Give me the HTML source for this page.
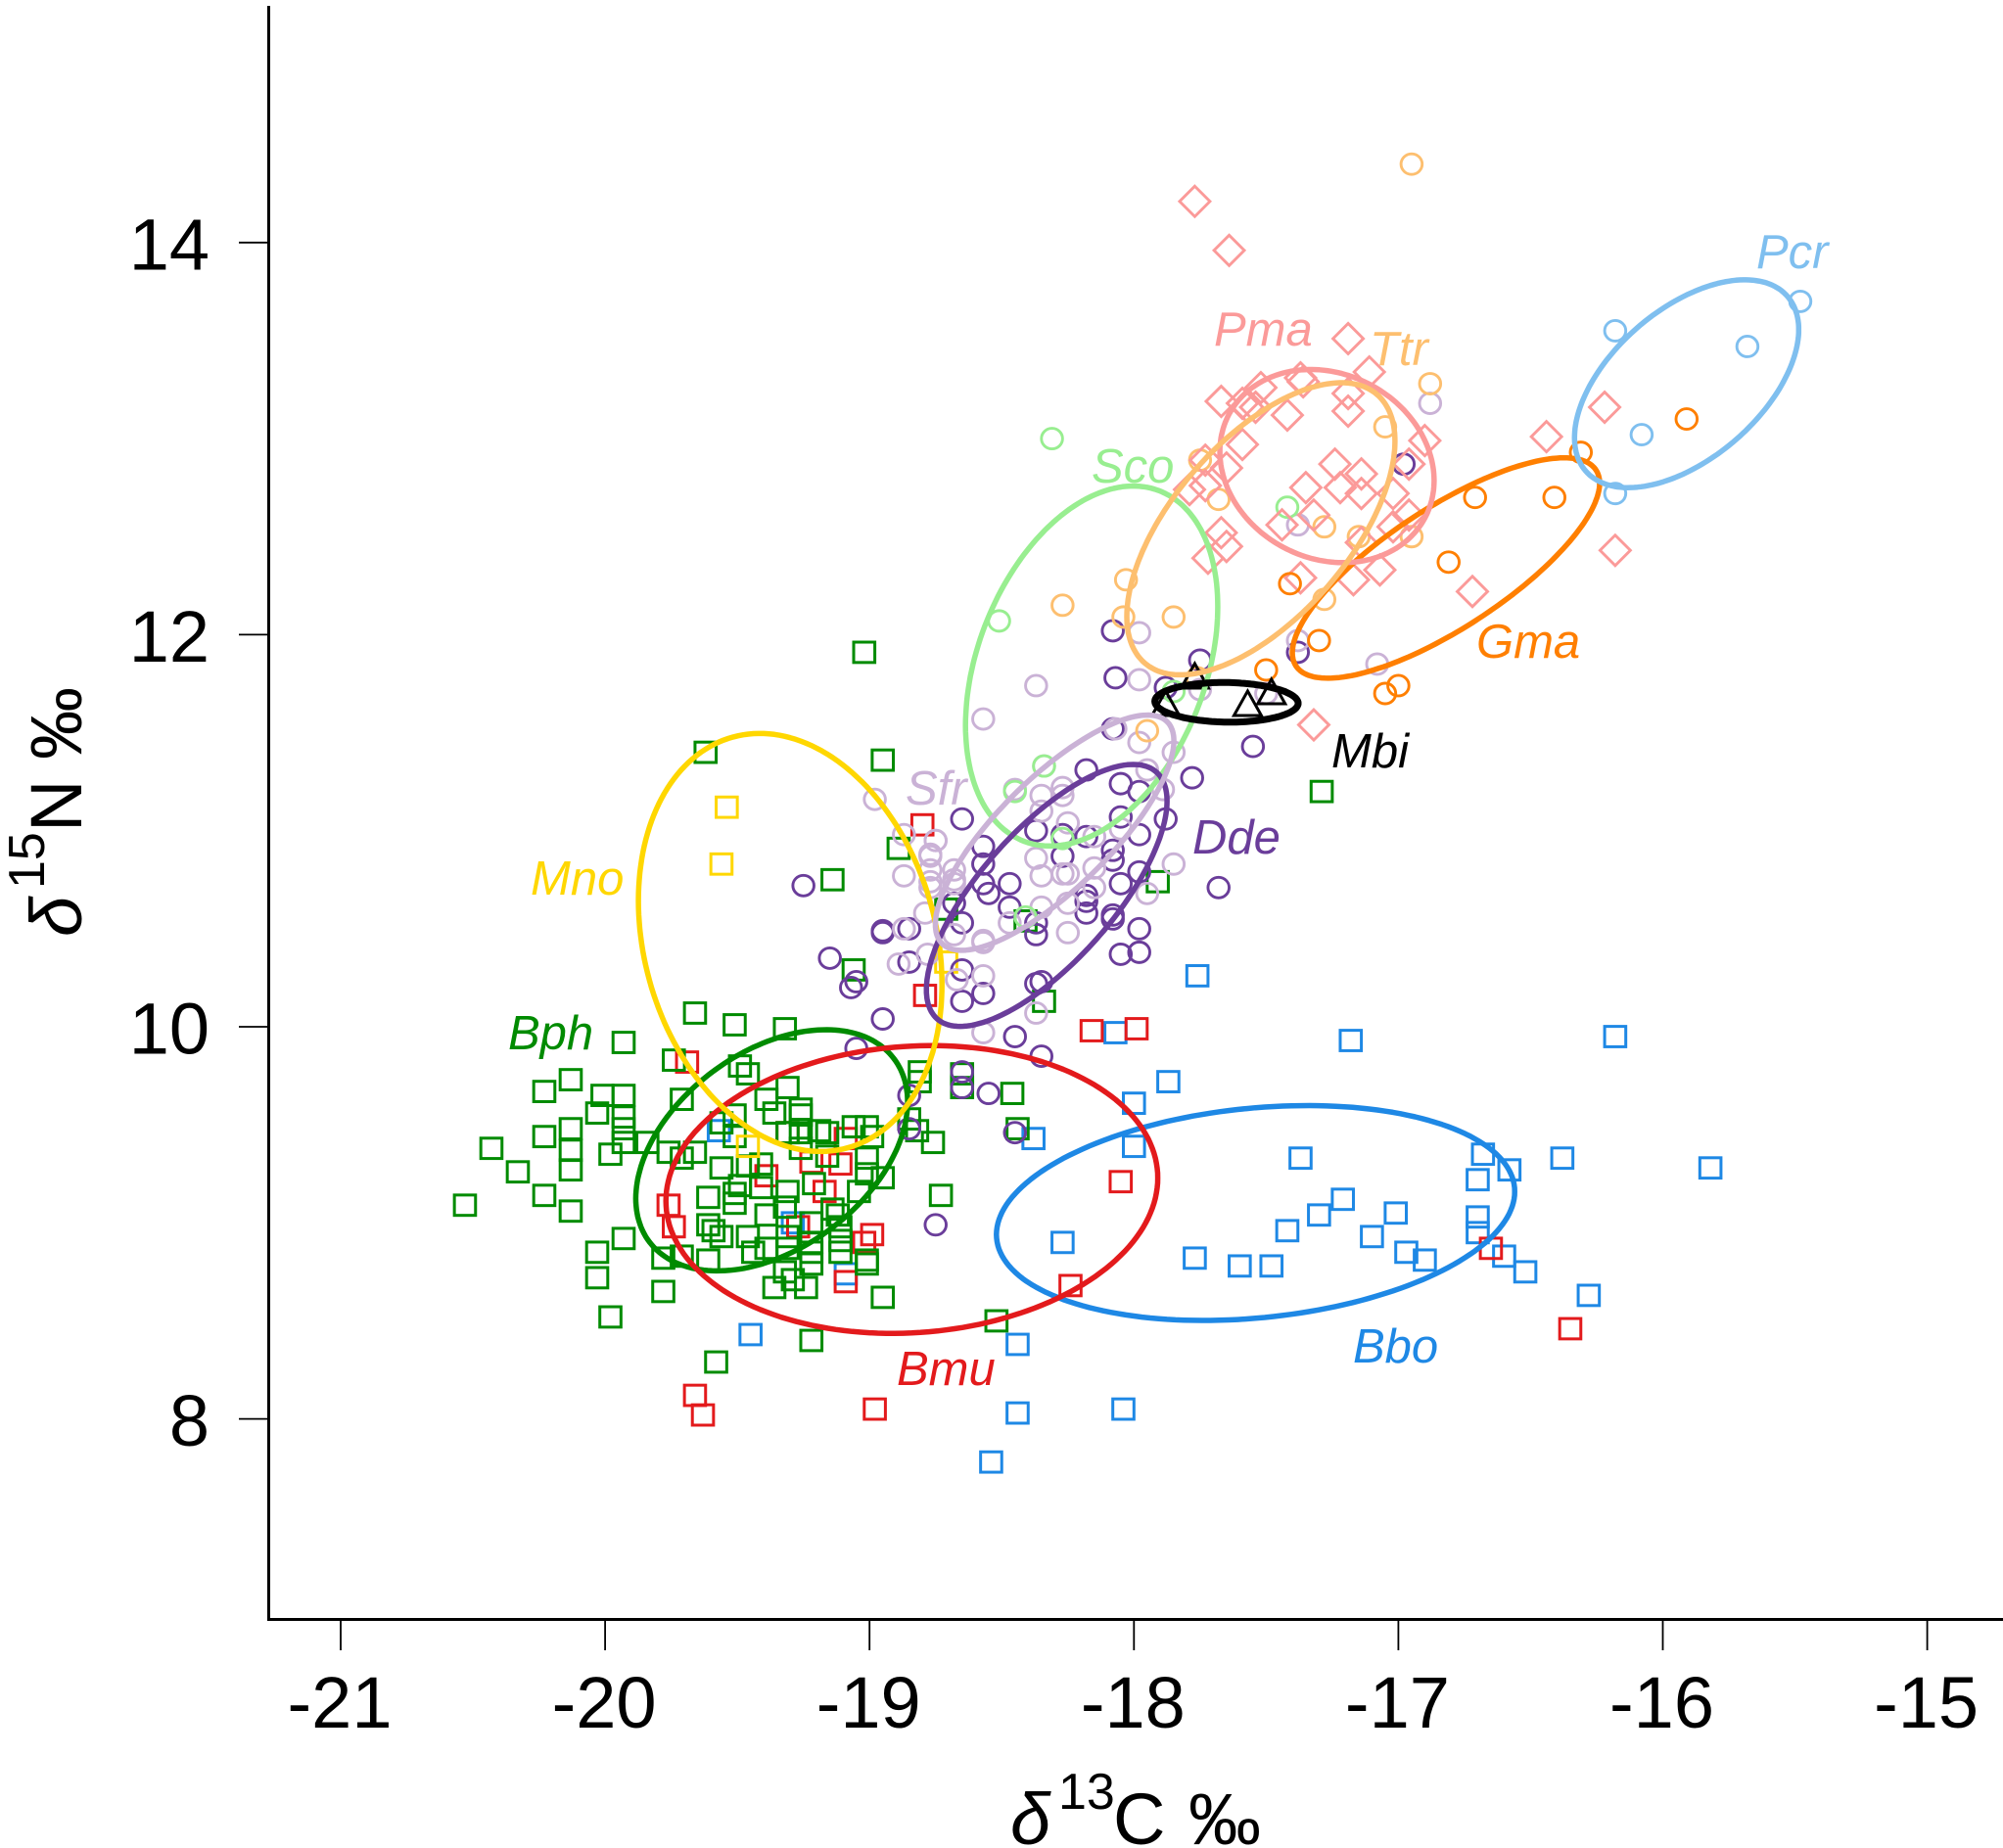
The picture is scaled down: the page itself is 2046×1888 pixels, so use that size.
<!DOCTYPE html>
<html lang="en">
<head>
<meta charset="utf-8">
<title>Stable isotope biplot</title>
<style>
html,body{margin:0;padding:0;background:#fff;width:2046px;height:1888px;overflow:hidden}
svg{display:block}
text{font-family:"Liberation Sans",Arial,sans-serif}
.lab{font-style:italic;font-size:49px}
</style>
</head>
<body>
<svg id="chart" xmlns="http://www.w3.org/2000/svg" width="2046" height="1888" viewBox="0 0 2046 1888">
<rect x="0" y="0" width="2046" height="1888" fill="#fff"/>
<g id="points"></g>
<g id="ellipses"></g>
<g id="axes">
<line x1="274.5" y1="6" x2="274.5" y2="1655" stroke="#000" stroke-width="3"/>
<line x1="273" y1="1654.5" x2="2046" y2="1654.5" stroke="#000" stroke-width="3"/>
</g>
<text font-size="74" fill="#000"><tspan x="1032" y="1884" font-style="italic">δ</tspan><tspan x="1081" y="1848" font-size="52">13</tspan><tspan x="1137" y="1884">C</tspan><tspan x="1214" y="1884">‰</tspan></text>
<text font-size="74" fill="#000" transform="translate(83,957) rotate(-90)"><tspan x="0" y="0" font-style="italic">δ</tspan><tspan x="49" y="-38" font-size="52">15</tspan><tspan x="107" y="0">N</tspan><tspan x="181" y="0">‰</tspan></text>
<g id="species-labels">
<text class="lab" x="1794" y="274" fill="#7FBFEF">Pcr</text>
<text class="lab" x="1240" y="353" fill="#FB9A99">Pma</text>
<text class="lab" x="1399" y="373" fill="#FDBF6F">Ttr</text>
<text class="lab" x="1115" y="493" fill="#98EE90">Sco</text>
<text class="lab" x="1508" y="672" fill="#FF7F00">Gma</text>
<text class="lab" x="1360" y="784" fill="#000">Mbi</text>
<text class="lab" x="925" y="822" fill="#CAB2D6">Sfr</text>
<text class="lab" x="1218" y="872" fill="#6A3D9A">Dde</text>
<text class="lab" x="542" y="914" fill="#FFD700">Mno</text>
<text class="lab" x="519" y="1072" fill="#008B00">Bph</text>
<text class="lab" x="916" y="1415" fill="#E31A1C">Bmu</text>
<text class="lab" x="1382" y="1392" fill="#1E88E5">Bbo</text>
</g>
</svg>
<script>
const xTickValues = [-21, -20, -19, -18, -17, -16, -15];
const yTickValues = [8, 10, 12, 14];

const bboPoints = [[-17.76,10.26],[-18.07,9.97],[-17.18,9.93],[-16.18,9.95],[-17.87,9.72],[-18.00,9.61],[-18.38,9.43],[-18.00,9.39],[-17.37,9.33],[-16.68,9.35],[-16.58,9.27],[-16.70,9.22],[-16.38,9.33],[-15.82,9.28],[-17.21,9.12],[-17.30,9.04],[-17.01,9.05],[-17.42,8.96],[-17.10,8.93],[-16.70,9.03],[-16.70,8.95],[-18.27,8.90],[-16.97,8.85],[-16.90,8.81],[-17.77,8.82],[-17.60,8.78],[-17.48,8.78],[-16.60,8.83],[-16.52,8.75],[-16.28,8.63],[-18.44,8.38],[-18.44,8.03],[-18.04,8.05],[-18.54,7.78],[-19.57,9.47],[-19.29,9.00],[-19.09,8.74],[-19.45,8.43]];
const bmuPoints = [[-18.80,11.03],[-18.79,10.16],[-18.16,9.98],[-17.99,9.99],[-19.69,9.82],[-19.31,9.46],[-19.09,9.43],[-19.22,9.31],[-19.11,9.30],[-19.39,9.24],[-19.17,9.16],[-19.76,9.09],[-19.74,8.98],[-19.27,8.98],[-18.99,8.94],[-19.02,8.90],[-19.09,8.70],[-18.05,9.21],[-18.24,8.68],[-16.65,8.87],[-16.35,8.46],[-19.66,8.12],[-19.63,8.02],[-18.98,8.05]];
const bphPoints = [[-19.93,9.92],[-19.74,9.83],[-20.13,9.73],[-20.23,9.67],[-20.01,9.65],[-19.93,9.65],[-19.71,9.63],[-20.03,9.56],[-19.93,9.54],[-19.93,9.48],[-19.93,9.41],[-20.13,9.48],[-20.13,9.37],[-20.13,9.27],[-20.23,9.44],[-19.84,9.41],[-20.43,9.38],[-19.98,9.35],[-19.76,9.36],[-19.71,9.33],[-19.66,9.36],[-20.33,9.26],[-20.23,9.14],[-20.53,9.09],[-20.13,9.06],[-19.93,8.92],[-20.03,8.85],[-20.03,8.72],[-19.78,8.82],[-19.71,8.83],[-19.78,8.65],[-19.98,8.52],[-19.61,9.13],[-19.51,10.01],[-19.32,9.99],[-19.49,9.80],[-19.46,9.76],[-19.31,9.69],[-19.39,9.63],[-19.51,9.55],[-19.56,9.51],[-19.36,9.56],[-19.26,9.55],[-19.26,9.58],[-18.81,9.77],[-18.81,9.72],[-19.51,9.44],[-18.85,9.53],[-18.82,9.47],[-19.06,9.49],[-19.01,9.49],[-19.19,9.47],[-19.16,9.46],[-18.99,9.44],[-19.31,9.46],[-19.26,9.46],[-19.26,9.38],[-19.16,9.34],[-19.01,9.33],[-18.95,9.23],[-19.01,9.25],[-18.76,9.41],[-19.56,9.28],[-19.46,9.29],[-19.41,9.30],[-19.49,9.19],[-19.51,9.15],[-19.51,9.10],[-19.41,9.18],[-19.31,9.16],[-19.32,9.08],[-19.21,9.20],[-19.04,9.16],[-19.14,9.07],[-19.12,9.04],[-19.11,8.98],[-19.11,8.91],[-19.11,8.85],[-19.39,9.04],[-19.22,9.00],[-19.22,8.90],[-19.61,8.99],[-19.59,8.96],[-19.56,8.93],[-19.46,8.93],[-19.39,8.87],[-19.44,8.85],[-19.31,8.93],[-19.31,8.87],[-19.22,8.85],[-19.22,8.79],[-19.61,8.81],[-19.01,8.81],[-19.01,8.79],[-19.32,8.75],[-19.29,8.71],[-19.36,8.67],[-19.24,8.67],[-18.95,8.62],[-19.22,8.40],[-19.02,11.91],[-19.62,11.40],[-18.95,11.36],[-18.89,10.91],[-19.14,10.75],[-18.71,10.60],[-18.41,10.54],[-17.91,10.74],[-17.29,11.20],[-19.06,10.29],[-18.34,10.13],[-19.66,10.07],[-18.65,9.76],[-18.65,9.69],[-18.46,9.66],[-18.44,9.48],[-18.73,9.14],[-18.52,8.50],[-19.58,8.29]];
const mnoPoints = [[-19.54,11.12],[-19.56,10.83],[-18.71,10.33],[-19.46,9.39]];
const ddePoints = [[-18.18,11.31],[-18.05,11.24],[-17.78,11.27],[-17.98,11.20],[-18.65,11.06],[-18.37,11.00],[-18.05,11.07],[-17.88,11.06],[-18.27,10.98],[-18.18,10.97],[-17.98,10.98],[-18.57,10.92],[-18.08,10.90],[-18.08,10.85],[-18.27,10.87],[-18.57,10.83],[-18.47,10.73],[-18.57,10.73],[-18.55,10.68],[-17.98,10.79],[-18.05,10.73],[-17.68,10.71],[-18.68,10.63],[-18.47,10.61],[-18.18,10.67],[-18.18,10.64],[-18.18,10.58],[-18.37,10.53],[-18.65,10.53],[-18.08,10.57],[-18.08,10.55],[-18.37,10.47],[-17.98,10.50],[-17.98,10.38],[-18.05,10.37],[-18.65,10.29],[-18.57,10.17],[-18.65,10.13],[-18.37,10.22],[-18.35,10.23],[-18.45,9.95],[-18.35,9.85],[-19.25,10.72],[-18.95,10.49],[-18.95,10.48],[-18.85,10.50],[-18.85,10.33],[-19.15,10.35],[-19.05,10.23],[-19.07,10.20],[-18.95,10.04],[-19.05,9.89],[-18.85,9.65],[-18.65,9.77],[-18.65,9.69],[-18.55,9.66],[-18.85,9.48],[-18.75,8.99],[-18.45,9.46],[-18.08,12.02],[-18.07,11.78],[-17.75,11.87],[-17.88,11.73],[-17.55,11.43],[-18.08,11.52],[-16.98,12.87],[-17.38,11.91]];
const sfrPoints = [[-17.98,11.45],[-17.85,11.40],[-17.95,11.31],[-18.34,11.33],[-18.45,11.21],[-18.27,11.22],[-18.35,11.18],[-18.27,11.18],[-17.89,11.21],[-18.35,11.10],[-18.25,11.04],[-18.05,11.01],[-18.15,10.97],[-18.75,10.95],[-18.77,10.87],[-18.37,10.86],[-18.77,10.80],[-18.68,10.80],[-18.15,10.81],[-17.85,10.83],[-18.35,10.77],[-18.25,10.78],[-18.27,10.78],[-18.77,10.74],[-18.68,10.73],[-17.95,10.68],[-18.15,10.71],[-18.35,10.61],[-18.25,10.63],[-18.79,10.58],[-18.47,10.53],[-18.68,10.47],[-18.57,10.44],[-18.57,10.43],[-18.25,10.48],[-18.78,10.37],[-18.67,10.24],[-18.57,10.26],[-18.37,10.07],[-18.57,9.97],[-18.98,11.16],[-18.87,10.98],[-18.75,10.95],[-18.77,10.88],[-18.87,10.77],[-18.77,10.71],[-18.68,10.75],[-18.87,10.50],[-18.89,10.32],[-18.37,11.74],[-18.57,11.57],[-17.98,11.77],[-18.07,11.52],[-17.98,12.01],[-17.75,11.72],[-17.50,11.70],[-17.38,12.56],[-16.88,13.18],[-17.38,11.97],[-17.08,11.85]];
const scoPoints = [[-18.31,13.00],[-17.42,12.65],[-18.51,12.07],[-17.85,11.71],[-18.34,11.33],[-18.45,11.20],[-18.27,10.96],[-18.41,10.56]];
const ttrPoints = [[-16.95,14.40],[-16.88,13.28],[-17.05,13.06],[-17.75,12.89],[-17.68,12.69],[-17.28,12.55],[-17.15,12.50],[-16.95,12.50],[-17.28,12.18],[-17.85,12.09],[-18.03,12.28],[-18.04,12.09],[-17.76,11.78],[-17.95,11.51],[-18.27,12.15]];
const pmaPoints = [[-17.77,14.21],[-17.64,13.96],[-17.19,13.51],[-17.11,13.34],[-17.37,13.31],[-17.52,13.26],[-17.67,13.19],[-17.59,13.18],[-17.57,13.16],[-17.54,13.16],[-17.42,13.12],[-17.36,13.29],[-17.19,13.23],[-17.19,13.14],[-16.90,12.99],[-17.59,12.97],[-16.96,12.87],[-17.24,12.87],[-17.14,12.82],[-17.65,12.85],[-17.73,12.89],[-17.79,12.74],[-17.73,12.76],[-17.35,12.75],[-17.22,12.75],[-17.14,12.72],[-17.02,12.72],[-17.32,12.61],[-17.44,12.56],[-16.96,12.61],[-17.02,12.55],[-17.67,12.52],[-17.65,12.45],[-17.72,12.39],[-17.14,12.47],[-17.07,12.33],[-17.17,12.28],[-17.37,12.29],[-16.72,12.22],[-17.32,11.54],[-16.44,13.01],[-16.22,13.16],[-16.18,12.43]];
const gmaPoints = [[-16.81,12.37],[-16.71,12.70],[-17.41,12.26],[-17.30,11.97],[-17.50,11.82],[-17.00,11.74],[-17.05,11.70],[-16.41,12.70],[-15.91,13.10],[-16.31,12.93]];
const pcrPoints = [[-16.18,13.55],[-15.48,13.70],[-15.68,13.47],[-16.08,13.02],[-16.18,12.72]];
const mbiPoints = [[-17.77,11.78],[-17.88,11.64],[-17.57,11.64],[-17.48,11.70]];

const ellipseSpecies = ['bbo', 'bph', 'bmu', 'mno', 'gma', 'pcr', 'sco', 'pma', 'ttr', 'dde', 'sfr', 'mbi'];
const ellipseCentreX = [-17.54, -19.37, -18.84, -19.30, -16.82, -15.91, -18.16, -17.27, -17.52, -18.33, -18.30, -17.65];
const ellipseCentreY = [9.05, 9.37, 9.17, 10.43, 12.34, 13.28, 11.84, 12.86, 12.54, 10.67, 10.99, 11.655];
const ellipseSpreadX = [0.98, 0.514, 0.93, 0.574, 0.581, 0.424, 0.477, 0.405, 0.507, 0.455, 0.451, 0.271];
const ellipseSpreadY = [0.548, 0.615, 0.734, 1.066, 0.562, 0.53, 0.918, 0.4925, 0.745, 0.668, 0.6, 0.101];
const ellipseCorrelation = [0.2, 0.4, 0.08, -0.2, 0.77, 0.52, 0.33, -0.15, 0.6, 0.72, 0.78, -0.05];

const COLORS = {bbo:'#1E88E5', bmu:'#E31A1C', bph:'#008B00', mno:'#FFD700', dde:'#6A3D9A', sfr:'#CAB2D6', sco:'#98EE90', ttr:'#FDBF6F', pma:'#FB9A99', gma:'#FF7F00', pcr:'#7FBFEF', mbi:'#000000'};
const NS = 'http://www.w3.org/2000/svg';

function xScale(v) { return 348 + (v + 21) * 270.1; }
function yScale(v) { return 1049 - (v - 10) * 200.3; }

function svgEl(tag, attrs, parent) {
  const el = document.createElementNS(NS, tag);
  for (const k in attrs) el.setAttribute(k, attrs[k]);
  parent.appendChild(el);
  return el;
}

const axesGroup = document.getElementById('axes');
xTickValues.forEach(function (v) {
  const px = xScale(v);
  const tick = svgEl('line', {x1: px, y1: 1655, x2: px, y2: 1686, stroke: '#000', 'stroke-width': 1.8}, axesGroup);
  
  
  const label = svgEl('text', {x: px - 1, y: 1765, 'text-anchor': 'middle', 'font-size': 74, fill: '#000'}, axesGroup);
  
  
  label.textContent = String(v);
});
yTickValues.forEach(function (v) {
  const py = yScale(v);
  const tick = svgEl('line', {x1: 244, y1: py, x2: 274, y2: py, stroke: '#000', 'stroke-width': 1.8}, axesGroup);
  
  
  const label = svgEl('text', {x: 214, y: py + 27.5, 'text-anchor': 'end', 'font-size': 74, fill: '#000'}, axesGroup);
  
  
  label.textContent = String(v);
});

const pointsGroup = document.getElementById('points');
function drawSquares(points, species) {
  points.forEach(function (p) {
    const el = svgEl('rect', {x: xScale(p[0]) - 10.8, y: yScale(p[1]) - 10.4, width: 21.6, height: 20.8, fill: 'none', stroke: COLORS[species], 'stroke-width': 3}, pointsGroup);
    
    
  });
}
function drawCircles(points, species) {
  points.forEach(function (p) {
    const el = svgEl('ellipse', {cx: xScale(p[0]), cy: yScale(p[1]), rx: 10.8, ry: 10.5, fill: 'none', stroke: COLORS[species], 'stroke-width': 2.9}, pointsGroup);
    
    
  });
}
function drawDiamonds(points, species) {
  points.forEach(function (p) {
    const cx = xScale(p[0]);
    const cy = yScale(p[1]);
    const pts = [cx, cy - 15.5, cx + 15.5, cy, cx, cy + 15.5, cx - 15.5, cy].join(',');
    const el = svgEl('polygon', {points: pts, fill: 'none', stroke: COLORS[species], 'stroke-width': 2.9}, pointsGroup);
    
    
  });
}
function drawTriangles(points, species) {
  points.forEach(function (p) {
    const cx = xScale(p[0]);
    const cy = yScale(p[1]);
    const pts = [cx, cy - 14.5, cx + 14, cy + 10.5, cx - 14, cy + 10.5].join(',');
    const el = svgEl('polygon', {points: pts, fill: 'none', stroke: COLORS[species], 'stroke-width': 3}, pointsGroup);
    
    
  });
}

drawSquares(bboPoints, 'bbo');
drawSquares(bmuPoints, 'bmu');
drawSquares(bphPoints, 'bph');
drawSquares(mnoPoints, 'mno');
drawCircles(ddePoints, 'dde');
drawCircles(sfrPoints, 'sfr');
drawCircles(scoPoints, 'sco');
drawCircles(ttrPoints, 'ttr');
drawDiamonds(pmaPoints, 'pma');
drawCircles(gmaPoints, 'gma');
drawCircles(pcrPoints, 'pcr');
drawTriangles(mbiPoints, 'mbi');

const ellipseGroup = document.getElementById('ellipses');
ellipseSpecies.forEach(function (sp, i) {
  const rho = ellipseCorrelation[i];
  const q = Math.sqrt(1 - rho * rho);
  const parts = [];
  for (let k = 0; k < 180; k++) {
    const t = k / 180 * 2 * Math.PI;
    const vx = ellipseCentreX[i] + ellipseSpreadX[i] * Math.cos(t);
    const vy = ellipseCentreY[i] + ellipseSpreadY[i] * (rho * Math.cos(t) + q * Math.sin(t));
    parts.push(xScale(vx).toFixed(1) + ',' + yScale(vy).toFixed(1));
  }
  const el = svgEl('polygon', {points: parts.join(' '), fill: 'none', stroke: COLORS[sp], 'stroke-width': sp === 'mbi' ? 7 : 5.5, 'stroke-linejoin': 'round'}, ellipseGroup);
  
  
});
</script>
</body>
</html>
